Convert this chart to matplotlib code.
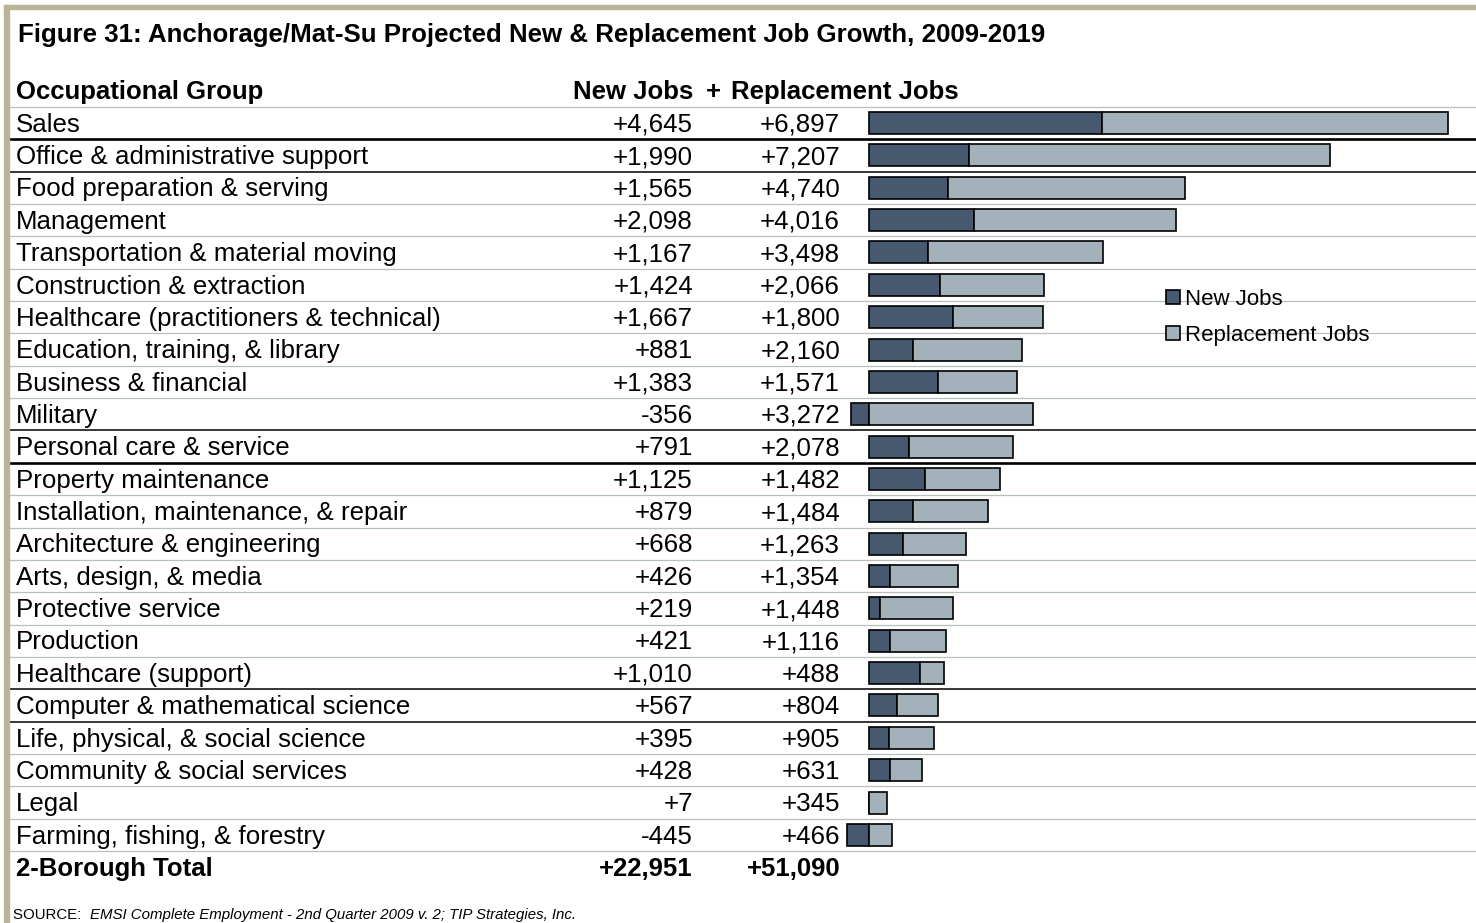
import matplotlib
matplotlib.use("Agg")
import matplotlib.pyplot as plt
from matplotlib.patches import Rectangle, Patch

plt.rcParams["font.family"] = ["Liberation Sans", "DejaVu Sans"]

# ---- data -------------------------------------------------------------
groups = [
    "Sales",
    "Office & administrative support",
    "Food preparation & serving",
    "Management",
    "Transportation & material moving",
    "Construction & extraction",
    "Healthcare (practitioners & technical)",
    "Education, training, & library",
    "Business & financial",
    "Military",
    "Personal care & service",
    "Property maintenance",
    "Installation, maintenance, & repair",
    "Architecture & engineering",
    "Arts, design, & media",
    "Protective service",
    "Production",
    "Healthcare (support)",
    "Computer & mathematical science",
    "Life, physical, & social science",
    "Community & social services",
    "Legal",
    "Farming, fishing, & forestry",
]
new_jobs = [4645, 1990, 1565, 2098, 1167, 1424, 1667, 881, 1383, -356, 791,
            1125, 879, 668, 426, 219, 421, 1010, 567, 395, 428, 7, -445]
replacement_jobs = [6897, 7207, 4740, 4016, 3498, 2066, 1800, 2160, 1571,
                    3272, 2078, 1482, 1484, 1263, 1354, 1448, 1116, 488, 804,
                    905, 631, 345, 466]
total_label = "2-Borough Total"
total_new = 22951
total_replacement = 51090

title = "Figure 31: Anchorage/Mat-Su Projected New & Replacement Job Growth, 2009-2019"
source_lead = "SOURCE:  "
source_body = "EMSI Complete Employment - 2nd Quarter 2009 v. 2; TIP Strategies, Inc."

# ---- styling ----------------------------------------------------------
DARK = "#46596f"
LIGHT = "#a3b1bb"
GRID = "#b5c1b9"
FRAME = "#b9b495"

W, H = 1476, 923
fig = plt.figure(figsize=(W / 100, H / 100), dpi=100)
fig.patch.set_facecolor("white")

# page frame (top and left rules)
fig.patches.append(Rectangle((4 / W, 1 - 9 / H), 1 - 4 / W, 4 / H,
                             transform=fig.transFigure, color=FRAME, zorder=0))
fig.patches.append(Rectangle((4 / W, 0), 5 / W, 1 - 5 / H,
                             transform=fig.transFigure, color=FRAME, zorder=0))

ax = fig.add_axes([0, 0, 1, 1])
ax.set_axis_off()

# horizontal scale: zero line and pixels per job
zero_px = 869
px_per_job = 579 / 11542
ax.set_xlim(-zero_px / px_per_job, (W - zero_px) / px_per_job)

# vertical scale: one unit per table row
row0_px, row_px = 123, 32.36
ax.set_ylim((H - row0_px) / row_px, -row0_px / row_px)

n = len(groups)
rows = list(range(n))

# bars: new jobs from zero, replacement stacked after positive new jobs
starts = [max(v, 0) for v in new_jobs]
ax.barh(rows, new_jobs, height=0.68, color=DARK, edgecolor="black",
        linewidth=1.2, zorder=3, label="New Jobs")
ax.barh(rows, replacement_jobs, left=starts, height=0.68, color=LIGHT,
        edgecolor="black", linewidth=1.2, zorder=3, label="Replacement Jobs")

# row separators
x0 = 10 / W
thick_black = {0, 10}
thin_black = {1, 9, 17, 18}
ax.axhline(-0.5, xmin=x0, xmax=1, color=GRID, lw=0.9, zorder=1)
for i in range(n):
    if i in thick_black:
        ax.axhline(i + 0.5, xmin=x0, xmax=1, color="black", lw=1.9, zorder=2)
    elif i in thin_black:
        ax.axhline(i + 0.5, xmin=x0, xmax=1, color="black", lw=1.1, zorder=2)
    else:
        ax.axhline(i + 0.5, xmin=x0, xmax=1, color=GRID, lw=0.9, zorder=1)

tr = ax.get_yaxis_transform()
fs = 18.6
fs_bold = 18.5
base = 0.27
label_x = 16 / W
new_x = 693 / W
rep_x = 840 / W

# title and column headers
ax.text(18 / W, -2.50, title, transform=tr, fontsize=18.6,
        fontweight="bold", va="baseline", ha="left")
ax.text(label_x, -1 + base, "Occupational Group", transform=tr,
        fontsize=fs_bold, fontweight="bold", va="baseline", ha="left")
ax.text(new_x, -1 + base, "New Jobs", transform=tr, fontsize=fs_bold,
        fontweight="bold", va="baseline", ha="right")
ax.text(713 / W, -1 + base, "+", transform=tr, fontsize=fs_bold,
        fontweight="bold", va="baseline", ha="center")
ax.text(731 / W, -1 + base, "Replacement Jobs", transform=tr,
        fontsize=fs_bold, fontweight="bold", va="baseline", ha="left")

# table rows
for i, (g, nv, rv) in enumerate(zip(groups, new_jobs, replacement_jobs)):
    ax.text(label_x, i + base, g, transform=tr, fontsize=fs,
            va="baseline", ha="left")
    ax.text(new_x, i + base, f"{nv:+,}", transform=tr, fontsize=fs,
            va="baseline", ha="right")
    ax.text(rep_x, i + base, f"{rv:+,}", transform=tr, fontsize=fs,
            va="baseline", ha="right")

# total row
ax.text(label_x, n + base, total_label, transform=tr, fontsize=fs_bold,
        fontweight="bold", va="baseline", ha="left")
ax.text(new_x, n + base, f"{total_new:+,}", transform=tr, fontsize=fs_bold,
        fontweight="bold", va="baseline", ha="right")
ax.text(rep_x, n + base, f"{total_replacement:+,}", transform=tr,
        fontsize=fs_bold, fontweight="bold", va="baseline", ha="right")

# source note
src = ax.text(13 / W, 24.59, source_lead, transform=tr, fontsize=10.8,
              va="baseline", ha="left")
ax.annotate(source_body, xycoords=src, xy=(1, 0), fontsize=10.8,
            style="italic", va="bottom", ha="left")

# legend
handles = [Patch(facecolor=DARK, edgecolor="black", linewidth=1.2),
           Patch(facecolor=LIGHT, edgecolor="black", linewidth=1.2)]
ax.legend(handles, ["New Jobs", "Replacement Jobs"], loc="upper left",
          bbox_to_anchor=(1166 / W, 1 - 289 / H), frameon=False,
          fontsize=16, handlelength=0.62, handleheight=0.62,
          handletextpad=0.22, labelspacing=0.68, borderpad=0,
          borderaxespad=0)

fig.savefig("out.png", dpi=100)
